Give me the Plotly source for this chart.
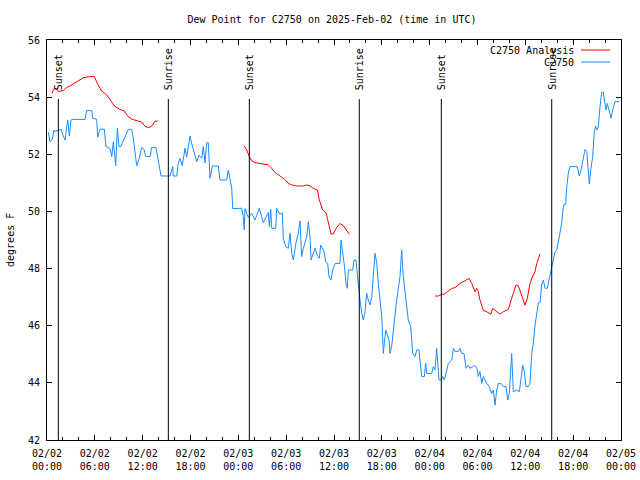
import pandas as pd
import plotly.graph_objects as go

BASE = pd.Timestamp("2025-02-02 00:00")

# Observed dew point, C2750 (hours since 02/02 00:00 UTC, deg F)
obs_hours = [0.16, 0.38, 0.66, 0.88, 1.0, 1.54, 1.76, 2.04, 2.26, 2.47, 2.6, 2.8, 3.01, 3.22, 4.77, 4.98, 5.61, 5.73,
             6.23, 6.36, 6.65, 7.19, 7.4, 7.9, 8.12, 8.32, 8.62, 8.82, 9.03, 9.24, 9.78, 10.2, 10.62, 10.83, 11.25,
             11.58, 11.88, 12.17, 12.38, 12.92, 13.13, 13.67, 13.89, 14.3, 15.43, 15.77, 15.84, 16.27, 16.47, 16.68,
             16.97, 17.31, 17.52, 17.94, 18.15, 18.48, 18.78, 19.07, 19.41, 19.61, 19.82, 20.03, 20.23, 20.45, 20.74,
             21.49, 21.7, 22.54, 22.74, 23.17, 23.3, 24.42, 24.62, 24.75, 24.84, 25.25, 25.68, 26.09, 26.63, 27.13,
             27.76, 27.89, 28.06, 28.19, 28.69, 28.81, 29.23, 29.52, 29.64, 29.94, 30.27, 30.48, 30.7, 30.9, 31.23,
             31.52, 31.73, 31.95, 32.15, 32.58, 32.78, 32.99, 33.12, 33.62, 33.96, 34.16, 34.33, 34.75, 34.96, 35.21,
             35.37, 35.62, 35.84, 36.16, 36.75, 36.88, 37.0, 37.26, 37.51, 37.67, 37.79, 38.35, 38.51, 38.76, 38.92,
             39.05, 39.26, 39.48, 39.68, 39.89, 40.1, 40.3, 40.52, 40.73, 40.93, 41.14, 41.36, 41.56, 41.99, 42.19,
             42.31, 42.49, 42.9, 43.03, 43.24, 43.44, 43.65, 43.86, 44.28, 44.49, 44.69, 45.12, 45.32, 45.62, 45.87,
             46.16, 46.37, 46.66, 46.79, 47.0, 47.33, 47.5, 47.63, 48.26, 48.46, 48.67, 48.88, 49.0, 49.17, 49.42,
             49.64, 49.84, 50.05, 50.34, 50.77, 50.97, 51.18, 51.59, 51.8, 52.02, 52.31, 52.56, 52.85, 53.06, 53.35,
             53.6, 53.9, 54.1, 54.31, 54.53, 54.73, 55.16, 55.48, 55.78, 55.98, 56.2, 56.41, 56.61, 56.95, 57.24,
             57.58, 57.79, 57.99, 58.17, 58.29, 58.49, 58.92, 59.25, 59.46, 59.67, 59.87, 60.08, 60.37, 60.59, 60.8,
             61.0, 61.21, 61.43, 61.63, 61.84, 62.05, 62.26, 62.47, 62.76, 63.01, 63.19, 63.31, 63.51, 63.72, 63.94,
             64.14, 64.35, 64.56, 64.69, 64.85, 65.07, 65.19, 65.39, 65.6, 66.52, 66.77, 66.95, 67.2, 67.49, 67.7,
             67.9, 68.03, 68.2, 68.45, 68.65, 68.83, 68.95, 69.15, 69.37, 69.58, 69.78, 69.99, 70.12, 70.28, 70.5,
             70.75, 70.96, 71.25, 71.79]
obs_values = [52.77, 52.44, 52.52, 52.85, 52.8, 52.85, 52.87, 52.64, 52.5, 52.97, 53.2, 52.64, 53.2, 53.22, 53.22,
              53.53, 53.53, 53.26, 53.22, 52.6, 52.88, 52.88, 52.27, 52.2, 51.92, 52.44, 51.6, 52.91, 52.27, 52.27,
              52.6, 52.87, 52.87, 52.56, 51.6, 51.86, 52.24, 52.17, 51.92, 51.92, 52.24, 52.24, 51.89, 51.24, 51.24,
              51.57, 51.24, 51.24, 51.68, 51.86, 51.6, 52.21, 51.9, 52.64, 52.38, 52.06, 51.74, 51.97, 51.86, 52.27,
              51.7, 52.41, 52.41, 51.16, 51.59, 51.59, 51.1, 51.1, 51.45, 50.81, 50.1, 50.11, 49.82, 49.35, 50.1,
              49.79, 49.93, 49.7, 50.11, 49.61, 49.96, 49.47, 50.07, 49.41, 49.41, 50.11, 49.9, 49.95, 49.06, 48.77,
              48.71, 49.23, 48.53, 48.3, 48.9, 49.23, 49.67, 48.42, 48.7, 49.12, 49.64, 49.1, 48.3, 48.71, 48.42,
              48.36, 48.82, 48.6, 48.24, 48.18, 47.72, 47.6, 47.95, 48.18, 48.18, 49.0, 48.77, 48.2, 47.48, 47.31,
              47.95, 47.95, 48.3, 48.3, 47.83, 47.37, 46.9, 46.43, 46.2, 46.5, 47.13, 46.9, 46.73, 47.0, 47.95, 48.53,
              48.2, 47.48, 46.32, 45.03, 45.4, 45.85, 45.5, 45.03, 45.3, 45.85, 46.55, 46.9, 47.72, 48.65, 47.72,
              46.67, 46.2, 45.97, 45.03, 44.92, 45.15, 45.15, 44.68, 44.22, 44.22, 44.68, 44.33, 44.33, 44.57, 44.45,
              45.21, 44.8, 44.1, 44.1, 44.22, 44.1, 44.33, 44.68, 44.8, 45.21, 45.1, 45.1, 45.21, 45.03, 45.03, 44.51,
              44.62, 44.51, 44.55, 44.62, 44.55, 44.22, 44.4, 43.98, 44.22, 43.98, 43.87, 43.63, 43.75, 43.22, 43.75,
              43.98, 43.98, 43.87, 43.87, 43.4, 43.63, 44.8, 45.03, 43.69, 43.75, 43.69, 44.22, 44.62, 44.4, 43.87,
              43.87, 43.98, 45.03, 45.38, 46.0, 46.43, 46.8, 46.8, 47.43, 47.6, 47.31, 47.31, 47.66, 47.89, 48.13,
              48.36, 48.59, 48.65, 49.0, 49.23, 49.58, 49.99, 50.25, 50.25, 50.87, 51.33, 51.57, 51.57, 51.24, 51.4,
              51.8, 52.17, 52.1, 51.33, 50.96, 51.45, 51.92, 52.79, 52.99, 52.85, 52.95, 53.67, 54.17, 54.17, 53.67,
              53.55, 53.78, 53.49, 53.26, 53.55, 53.84, 53.84]

# Analysis dew point, three runs
ana1_hours = [0.66, 0.79, 1.13, 1.42, 2.04, 2.47, 2.89, 3.51, 3.93, 4.55, 5.39, 5.93, 6.36, 6.86, 7.49, 8.12, 8.53,
              9.16, 9.66, 10.12, 10.62, 11.45, 11.88, 12.29, 12.71, 13.13, 13.55, 13.89]
ana1_values = [54.13, 54.27, 54.31, 54.2, 54.23, 54.34, 54.39, 54.51, 54.58, 54.68, 54.72, 54.72, 54.46, 54.21,
               54.08, 53.84, 53.67, 53.57, 53.52, 53.34, 53.23, 53.16, 53.13, 52.98, 52.93, 52.98, 53.16, 53.16]
ana2_hours = [24.75, 25.05, 25.38, 25.68, 26.09, 26.72, 27.76, 28.19, 28.6, 29.23, 29.85, 30.27, 30.7, 31.32, 32.15,
              32.58, 32.99, 33.4, 33.91, 34.16, 34.58, 35.0, 35.29, 35.62, 35.91, 36.34, 36.75, 37.17, 37.51, 37.92]
ana2_values = [52.29, 52.15, 51.92, 51.77, 51.71, 51.68, 51.63, 51.51, 51.36, 51.24, 51.12, 50.98, 50.93, 50.89,
               50.89, 50.93, 50.89, 50.81, 50.75, 50.4, 50.05, 49.96, 49.58, 49.21, 49.21, 49.44, 49.58, 49.5, 49.37,
               49.2]
ana3_hours = [48.67, 49.08, 49.51, 49.8, 50.14, 50.77, 51.18, 51.8, 52.43, 52.94, 53.27, 53.69, 53.9, 54.1, 54.31,
              54.73, 55.16, 55.66, 55.91, 56.32, 56.82, 57.24, 57.87, 58.29, 58.83, 59.12, 59.55, 59.96, 60.25, 60.59,
              60.93, 61.21, 61.43, 61.84]
ana3_values = [47.04, 47.04, 47.1, 47.1, 47.17, 47.31, 47.33, 47.48, 47.57, 47.66, 47.48, 47.19, 47.31, 47.2, 46.9,
               46.53, 46.49, 46.4, 46.61, 46.51, 46.41, 46.49, 46.57, 46.96, 47.43, 47.4, 47.02, 46.72, 46.96, 47.48,
               47.74, 47.89, 48.18, 48.51]

sun_labels = ["Sunset", "Sunrise", "Sunset", "Sunrise", "Sunset", "Sunrise"]
sun_hours = [1.42, 15.22, 25.38, 39.17, 49.46, 63.31]

title_text = "Dew Point for C2750 on 2025-Feb-02 (time in UTC)"
y_label = "degrees F"
ana_name = "C2750 Analysis"
obs_name = "C2750"
FONT = "DejaVu Sans Mono"


def to_time(hours):
    return [None if h is None else BASE + pd.Timedelta(hours=h) for h in hours]


ana_hours = ana1_hours + [None] + ana2_hours + [None] + ana3_hours
ana_values = ana1_values + [None] + ana2_values + [None] + ana3_values

fig = go.Figure()
fig.add_trace(go.Scatter(x=to_time(ana_hours), y=ana_values, mode="lines", name=ana_name,
                         line=dict(color="#ff0000", width=1), connectgaps=False))
fig.add_trace(go.Scatter(x=to_time(obs_hours), y=obs_values, mode="lines", name=obs_name,
                         line=dict(color="#1a8cff", width=1)))

for lab, h in zip(sun_labels, sun_hours):
    t = BASE + pd.Timedelta(hours=h)
    fig.add_shape(type="line", xref="x", yref="paper", x0=t, x1=t, y0=0, y1=0.8525,
                  line=dict(color="black", width=1))
    fig.add_annotation(x=t, xref="x", y=0.87, yref="paper", text=lab, textangle=-90,
                       showarrow=False, xanchor="center", yanchor="bottom",
                       font=dict(family=FONT, size=10, color="black"))

# custom legend (gnuplot style: text right, sample line)
for i, (name, col) in enumerate([(ana_name, "#ff0000"), (obs_name, "#1a8cff")]):
    yp = 0.975 - i * 0.03
    fig.add_annotation(x=0.921, xref="paper", y=yp, yref="paper", text=name, showarrow=False,
                       xanchor="right", yanchor="middle", font=dict(family=FONT, size=10, color="black"))
    fig.add_shape(type="line", xref="paper", yref="paper", x0=0.9303, x1=0.9808, y0=yp, y1=yp,
                  line=dict(color=col, width=1))

fig.add_annotation(x=-0.0645, xref="paper", y=0.5, yref="paper", text=y_label, textangle=-90,
                   showarrow=False, xanchor="center", yanchor="middle",
                   font=dict(family=FONT, size=10, color="black"))

fig.update_layout(
    width=640, height=480,
    margin=dict(l=47, r=19, t=40, b=40, pad=0, autoexpand=False),
    paper_bgcolor="white", plot_bgcolor="white",
    showlegend=False,
    font=dict(family=FONT, size=10, color="black"),
    title=dict(text=title_text, x=0.4965, xref="paper", xanchor="center", y=1 - 19 / 480, yref="container",
               yanchor="middle", font=dict(family=FONT, size=10, color="black"), automargin=False),
    xaxis=dict(type="date", range=[BASE, BASE + pd.Timedelta(hours=72)], dtick=6 * 3600 * 1000,
               tick0=BASE, tickformat="%m/%d<br>%H:%M", ticks="inside", ticklen=5, tickcolor="black",
               showline=True, linecolor="black", linewidth=1, mirror="ticks", showgrid=False, zeroline=False,
               minor=dict(dtick=2 * 3600 * 1000, ticks="inside", ticklen=3, tickcolor="black", showgrid=False),
               ticklabelstandoff=4, automargin=False),
    yaxis=dict(range=[42, 56], dtick=2, ticks="inside", ticklen=5, tickcolor="black",
               showline=True, linecolor="black", linewidth=1, mirror="ticks", showgrid=False, zeroline=False,
               ticklabelstandoff=4, automargin=False),
)

fig.write_html("out.html", config={"displayModeBar": False},
               post_script="document.body.style.margin='0';")
